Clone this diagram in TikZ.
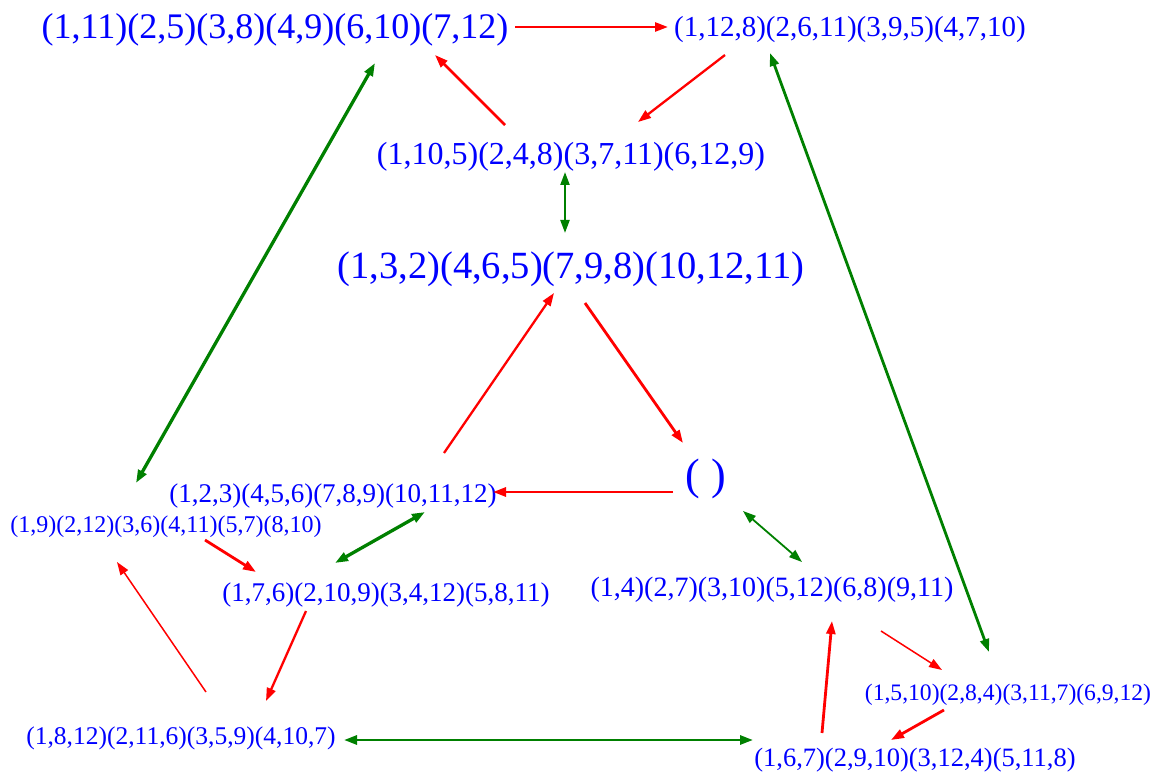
\documentclass[tikz,border=0pt]{standalone}
\usepackage{fontspec}
\setmainfont{Liberation Serif}
\definecolor{blue1}{HTML}{0000FF}
\definecolor{red1}{HTML}{FF0000}
\definecolor{green1}{HTML}{008000}
\usetikzlibrary{arrows.meta, calc}

\begin{document}
\begin{tikzpicture}[
  x=1pt, y=-1pt,
  perm/.style   = {text=blue1, inner sep=0pt,
                   font=\fontsize{#1}{#1}\selectfont},
  redarr/.style = {draw=red1, line width=#1,
                   -{Triangle[length=13pt, width=9pt]}},
  grnarr/.style = {draw=green1, line width=#1,
                   {Triangle[length=13pt, width=9pt]}-{Triangle[length=13pt, width=9pt]}}
]
\useasboundingbox (0,0) rectangle (1160,778);

% Top row
\node[perm=36] (A) at (275,30)  {(1,11)(2,5)(3,8)(4,9)(6,10)(7,12)};
\node[perm=29] (B) at (850,30)  {(1,12,8)(2,6,11)(3,9,5)(4,7,10)};
\node[perm=32] (C) at (571,157) {(1,10,5)(2,4,8)(3,7,11)(6,12,9)};
\node[perm=38.5] (D) at (571,269) {(1,3,2)(4,6,5)(7,9,8)(10,12,11)};

% Middle
\node[perm=44] (E) at (706,479) {( )};
\node[perm=27] (F) at (333,496) {(1,2,3)(4,5,6)(7,8,9)(10,11,12)};
\node[perm=24] (G) at (166,527) {(1,9)(2,12)(3,6)(4,11)(5,7)(8,10)};
\node[perm=27] (H) at (386,595) {(1,7,6)(2,10,9)(3,4,12)(5,8,11)};
\node[perm=28] (J) at (772,590) {(1,4)(2,7)(3,10)(5,12)(6,8)(9,11)};

% Bottom row
\node[perm=25.5] (I) at (181,738) {(1,8,12)(2,11,6)(3,5,9)(4,10,7)};
\node[perm=23.6] (K) at (1008,695) {(1,5,10)(2,8,4)(3,11,7)(6,9,12)};
\node[perm=26.5] (L) at (915,760) {(1,6,7)(2,9,10)(3,12,4)(5,11,8)};

% Red arrows
\draw[redarr=2.6pt] ($(A)+(240,-3)$)  -- ($(B)+(-182,-3)$);
\draw[redarr=2.3pt] ($(B)+(-125,25)$) -- ($(C)+(67,-35)$);
\draw[redarr=2.5pt] ($(C)+(-66,-32)$) -- ($(A)+(160,25)$);
\draw[redarr=2.8pt] ($(D)+(14,34)$)   -- ($(E)+(-23,-36)$);
\draw[redarr=2.8pt] ($(E)+(-33,13)$)  -- ($(F)+(160,-4)$);
\draw[redarr=2.3pt] ($(F)+(111,-43)$) -- ($(D)+(-17,24)$);
\draw[redarr=2.8pt] ($(G)+(39,13)$)   -- ($(H)+(-130,-23)$);
\draw[redarr=2.3pt] ($(H)+(-80,16)$)  -- ($(I)+(85,-37)$);
\draw[redarr=1.5pt] ($(I)+(25,-46)$)  -- ($(G)+(-49,35)$);
\draw[redarr=2.8pt] ($(L)+(-93,-27)$) -- ($(J)+(60,31)$);
\draw[redarr=1.5pt] ($(J)+(109,41)$)  -- ($(K)+(-66,-25)$);
\draw[redarr=2.8pt] ($(K)+(-64,15)$)  -- ($(L)+(-24,-20)$);

% Green double arrows
\draw[grnarr=2.2pt] ($(C)+(-6,15)$)   -- ($(D)+(-6,-36)$);
\draw[grnarr=3.3pt] ($(A)+(100,33)$)  -- ($(G)+(-30,-44)$);
\draw[grnarr=2.8pt] ($(B)+(-80,23)$)  -- ($(K)+(-19,-43)$);
\draw[grnarr=3.3pt] ($(F)+(92,16)$)   -- ($(H)+(-51,-32)$);
\draw[grnarr=2.8pt] ($(I)+(163,2)$)   -- ($(L)+(-162,-20)$);
\draw[grnarr=1.8pt] ($(E)+(37,32)$)   -- ($(J)+(30,-28)$);

\end{tikzpicture}
\end{document}
